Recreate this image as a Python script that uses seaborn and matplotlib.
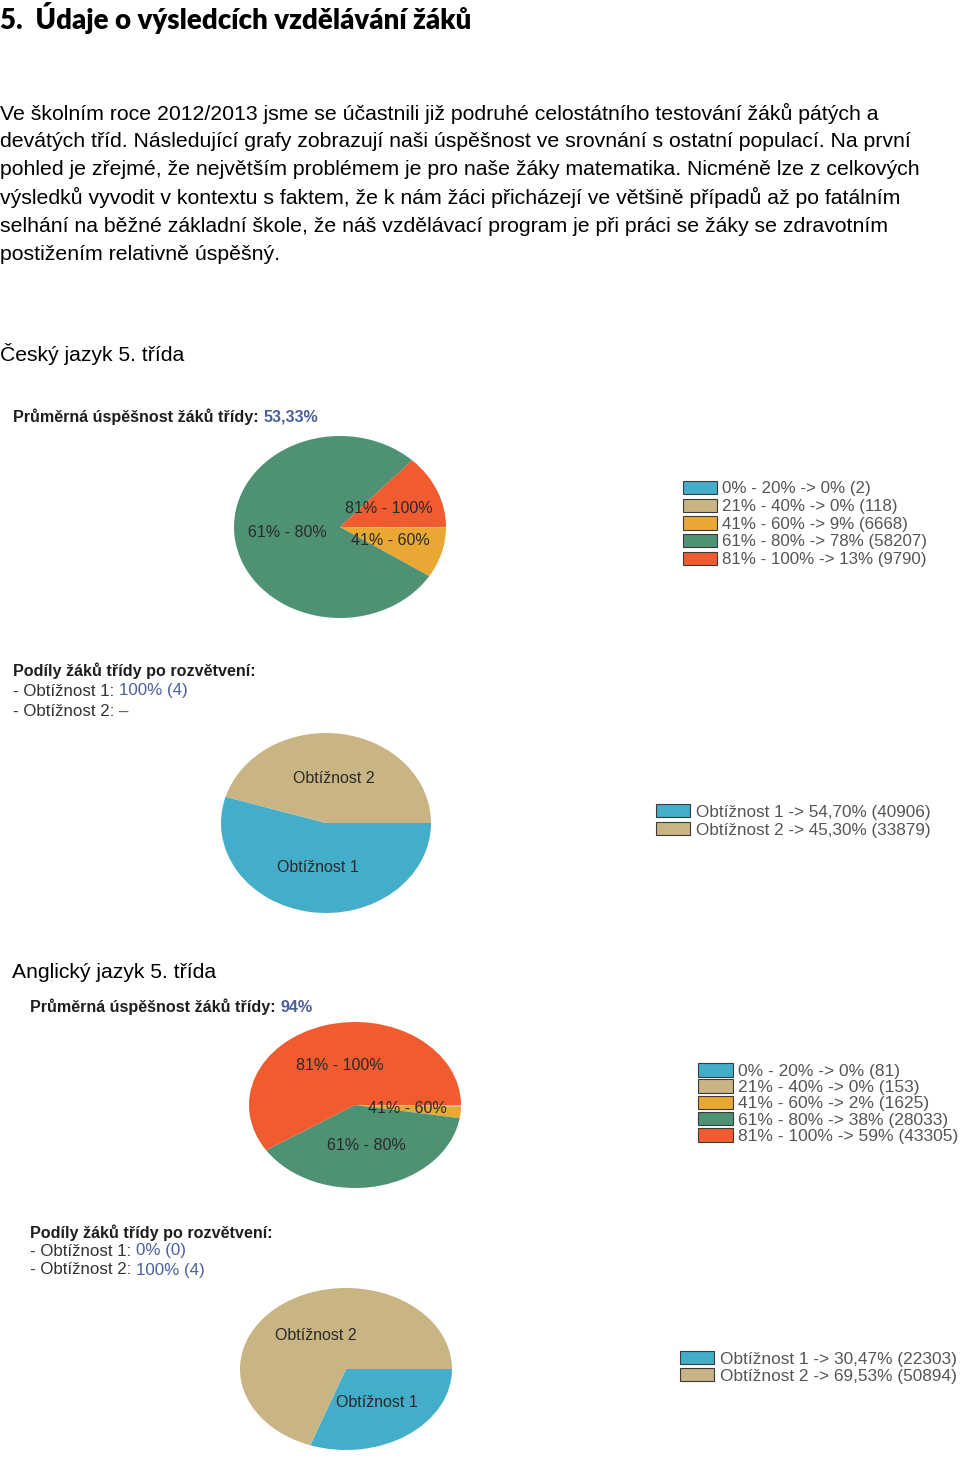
import matplotlib
matplotlib.use('Agg')
import matplotlib.pyplot as plt
import seaborn as sns
from matplotlib.patches import Patch

sns.set_theme(style='white')
plt.rcParams['font.family'] = ['Liberation Sans', 'DejaVu Sans']

# ---------------- data ----------------
score_bands = ['0% - 20%', '21% - 40%', '41% - 60%', '61% - 80%', '81% - 100%']
cz_band_counts = [2, 118, 6668, 58207, 9790]
en_band_counts = [81, 153, 1625, 28033, 43305]
levels = ['Obtížnost 1', 'Obtížnost 2']
cz_level_counts = [40906, 33879]
en_level_counts = [22303, 50894]
cz_class_avg = '53,33%'
en_class_avg = '94%'
cz_class_levels = ['100% (4)', '–']
en_class_levels = ['0% (0)', '100% (4)']

band_colors = ['#44adc9', '#c9b583', '#e9a733', '#4f9173', '#f05b2f']
level_colors = ['#44adc9', '#c9b583']

title = '5.  Údaje o výsledcích vzdělávání žáků'
body = [
    'Ve školním roce 2012/2013 jsme se účastnili již podruhé celostátního testování žáků pátých a',
    'devátých tříd. Následující grafy zobrazují naši úspěšnost ve srovnání s ostatní populací. Na první',
    'pohled je zřejmé, že největším problémem je pro naše žáky matematika. Nicméně lze z celkových',
    'výsledků vyvodit v kontextu s faktem, že k nám žáci přicházejí ve většině případů až po fatálním',
    'selhání na běžné základní škole, že náš vzdělávací program je při práci se žáky se zdravotním',
    'postižením relativně úspěšný.',
]

W, H = 960, 1460
fig = plt.figure(figsize=(W / 100, H / 100), dpi=100)
fig.patch.set_facecolor('white')
renderer = fig.canvas.get_renderer()


def fy(y):
    return 1 - y / H


def measure(s, **kw):
    t = fig.text(0, 0, s, **kw)
    w = t.get_window_extent(renderer).width
    t.remove()
    return w


def fit_size(s, width, base=14, **kw):
    return base * width / measure(s, fontsize=base, **kw)


def rich(x, y, parts, **kw):
    acc = ''
    for s, color in parts:
        acc += s
        xr = x + measure(acc, **kw)
        fig.text(xr / W, fy(y), s, color=color, ha='right', va='center', **kw)


# ---------------- page text ----------------
tsize = fit_size(title, 471, family=['Lato', 'DejaVu Sans'], fontweight='heavy')
fig.text(0 / W, fy(18), title, family=['Lato', 'DejaVu Sans'], fontweight='heavy',
         fontsize=tsize, color='black', ha='left', va='center')

bsize = fit_size(body[0], 886)
for i, line in enumerate(body):
    fig.text(0, fy(113 + i * 28.3), line, fontsize=bsize, color='black', ha='left', va='center')

fig.text(0, fy(354), 'Český jazyk 5. třída', fontsize=fit_size('Český jazyk 5. třída', 186),
         color='black', ha='left', va='center')
fig.text(12 / W, fy(973), 'Anglický jazyk 5. třída',
         fontsize=fit_size('Anglický jazyk 5. třída', 206), color='black', ha='left', va='center')

hdr = dict(fontsize=11.6, fontweight='bold')
sub = dict(fontsize=12.2)
dark = '#1e1e1e'
blue = '#4b5fa0'
grey = '#333333'

rich(13, 417, [('Průměrná úspěšnost žáků třídy: ', dark), (cz_class_avg, blue)], **hdr)
fig.text(13 / W, fy(671), 'Podíly žáků třídy po rozvětvení:', color=dark, ha='left', va='center', **hdr)
rich(13, 691, [('- ' + levels[0] + ': ', grey), (cz_class_levels[0], blue)], **sub)
rich(13, 712, [('- ' + levels[1] + ': ', grey), (cz_class_levels[1], blue)], **sub)

rich(30, 1007, [('Průměrná úspěšnost žáků třídy: ', dark), (en_class_avg, blue)], **hdr)
fig.text(30 / W, fy(1233), 'Podíly žáků třídy po rozvětvení:', color=dark, ha='left', va='center', **hdr)
rich(30, 1251, [('- ' + levels[0] + ': ', grey), (en_class_levels[0], blue)], **sub)
rich(30, 1270, [('- ' + levels[1] + ': ', grey), (en_class_levels[1], blue)], **sub)


# ---------------- pies ----------------
def draw_pie(cx, cy, rx, ry, counts, colors, labels):
    ax = fig.add_axes([(cx - rx) / W, fy(cy + ry), 2 * rx / W, 2 * ry / H])
    total = sum(counts)
    lab = [l if c / total >= 0.01 else '' for l, c in zip(labels, counts)]
    wedges, texts = ax.pie(counts, colors=colors, labels=lab, labeldistance=0.5,
                           startangle=0, counterclock=False,
                           wedgeprops=dict(linewidth=0),
                           textprops=dict(fontsize=11.5, color='#2a2a2a'))
    for t in texts:
        t.set_ha('center')
        t.set_va('center')
    for w in wedges:
        w.set_clip_on(False)
    ax.set_aspect('auto')
    ax.set_xlim(-1, 1)
    ax.set_ylim(-1, 1)
    ax.axis('off')
    return ax


def draw_legend(ax, x, ytop, labels, colors, spacing, size=12.3):
    handles = [Patch(facecolor=c, edgecolor='#3a3a3a', linewidth=0.8) for c in colors]
    ax.legend(handles, labels, loc='upper left', bbox_to_anchor=(x / W, fy(ytop)),
              bbox_transform=fig.transFigure, frameon=False, borderpad=0, borderaxespad=0,
              handlelength=2.0, handleheight=0.82, handletextpad=0.33, labelspacing=spacing,
              fontsize=size, labelcolor='#555555')


def band_labels(counts):
    tot = sum(counts)
    return [f'{b} -> {round(100 * c / tot)}% ({c})' for b, c in zip(score_bands, counts)]


def level_labels(counts):
    tot = sum(counts)
    return [f'{l} -> {100 * c / tot:.2f}'.replace('.', ',') + f'% ({c})' for l, c in zip(levels, counts)]


ax1 = draw_pie(340, 527, 106, 91, cz_band_counts, band_colors, score_bands)
draw_legend(ax1, 683, 481, band_labels(cz_band_counts), band_colors, 0.13, 12.2)

ax2 = draw_pie(326, 823, 105, 90, cz_level_counts, level_colors, levels)
draw_legend(ax2, 656, 804, level_labels(cz_level_counts), level_colors, 0.14, 12.3)

ax3 = draw_pie(355, 1105, 106, 83, en_band_counts, band_colors, score_bands)
draw_legend(ax3, 698, 1063, band_labels(en_band_counts), band_colors, 0.03, 12.5)

ax4 = draw_pie(346, 1369, 106, 81, en_level_counts, level_colors, levels)
draw_legend(ax4, 680, 1351, level_labels(en_level_counts), level_colors, 0.08, 12.4)

fig.savefig('out.png', dpi=100, facecolor='white')
